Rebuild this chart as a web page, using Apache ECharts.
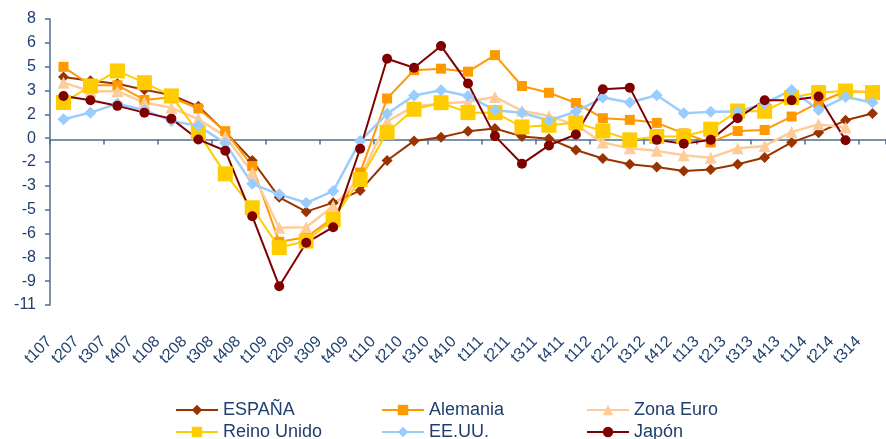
<!DOCTYPE html>
<html>
<head>
<meta charset="utf-8">
<script src="https://cdn.jsdelivr.net/npm/echarts@6/dist/echarts.min.js"></script>
<style>
html,body{margin:0;padding:0;background:#fff;}
#chart{width:886px;height:439px;}
</style>
</head>
<body>
<div id="chart"></div>
<script>
const categories = ['t107','t207','t307','t407','t108','t208','t308','t408','t109','t209','t309','t409','t110','t210','t310','t410','t111','t211','t311','t411','t112','t212','t312','t412','t113','t213','t313','t413','t114','t214','t314'];

const espana    = [4.15, 3.9, 3.7, 3.3, 2.95, 2.2, 0.5, -1.4, -3.85, -4.8, -4.2, -3.4, -1.4, -0.1, 0.15, 0.55, 0.72, 0.2, 0.05, -0.7, -1.27, -1.65, -1.83, -2.1, -2.0, -1.65, -1.2, -0.2, 0.45, 1.27, 1.72];
const alemania  = [4.82, 3.6, 3.6, 2.62, 2.8, 2.05, 0.55, -1.77, -6.8, -6.5, -5.2, -2.2, 2.72, 4.6, 4.7, 4.5, 5.6, 3.55, 3.1, 2.42, 1.41, 1.3, 1.1, 0.4, -0.2, 0.56, 0.63, 1.52, 2.45, 3.2, 3.15];
const zonaEuro  = [3.77, 3.2, 3.2, 2.45, 2.1, 1.35, 0.2, -2.2, -5.87, -5.83, -4.43, -2.55, 1.2, 2.2, 2.37, 2.5, 2.82, 1.9, 1.56, 0.95, -0.21, -0.59, -0.76, -1.05, -1.21, -0.59, -0.43, 0.5, 1.0, 0.79, null];
const reinoUnido= [2.45, 3.55, 4.55, 3.77, 2.89, 0.45, -2.29, -4.54, -7.19, -6.75, -5.32, -2.66, 0.47, 2.0, 2.44, 1.78, 1.78, 0.83, 0.94, 1.1, 0.56, -0.03, 0.2, 0.2, 0.68, 1.89, 1.87, 2.78, 3.11, 3.22, 3.11];
const eeuu      = [1.34, 1.78, 2.38, 1.94, 1.23, 0.9, -0.25, -2.95, -3.65, -4.21, -3.43, -0.11, 1.7, 2.92, 3.27, 2.89, 1.93, 1.77, 1.26, 1.85, 2.78, 2.45, 2.93, 1.74, 1.83, 1.85, 2.38, 3.29, 1.96, 2.82, 2.45];
const japon     = [2.89, 2.6, 2.23, 1.78, 1.38, 0.0, -0.75, -5.1, -9.75, -6.87, -5.83, -0.62, 5.36, 4.76, 6.21, 3.71, 0.22, -1.62, -0.4, 0.33, 3.33, 3.44, -0.03, -0.28, -0.03, 1.41, 2.6, 2.6, 2.85, -0.05, null];

const yMin = -11, yMax = 8, yInterval = 19 / 12;
const yTickLabels = ['-11','-9','-8','-6','-5','-3','-2','0','2','3','5','6','8'];

const textColor = '#1F3F6E';
const axisColor = '#4F6F92';
const font = 'Liberation Sans, Arial, sans-serif';

const chart = echarts.init(document.getElementById('chart'), null, {renderer: 'canvas'});

function mkSeries(name, data, color, symbol, size, width) {
  return {
    name: name, type: 'line', data: data, xAxisIndex: 0, yAxisIndex: 0,
    symbol: symbol, symbolSize: size, showSymbol: true,
    lineStyle: {color: color, width: width},
    itemStyle: {color: color, borderWidth: 0},
    connectNulls: false, animation: false
  };
}

function mkLegend(name, left, top) {
  return {
    data: [name], orient: 'horizontal', left: left, top: top,
    itemWidth: 42, itemHeight: 13, itemGap: 5, padding: 0,
    textStyle: {fontSize: 18, color: textColor, fontFamily: font}
  };
}

const option = {
  animation: false,
  backgroundColor: '#ffffff',
  textStyle: {fontFamily: font},
  grid: [
    {left: 50, right: 0, top: 19, bottom: 134, outerBoundsMode: 'none', containLabel: false},
    {left: 36, right: 14, top: 19, bottom: 134, outerBoundsMode: 'none', containLabel: false}
  ],
  xAxis: [
    {
      type: 'category', gridIndex: 0, data: categories, boundaryGap: true,
      axisLine: {show: true, onZero: true, lineStyle: {color: axisColor, width: 1.5}},
      axisTick: {show: true, length: 5, lineStyle: {color: axisColor, width: 1.5}},
      axisLabel: {show: false},
      splitLine: {show: false}
    },
    {
      type: 'category', gridIndex: 1, data: categories, boundaryGap: true, position: 'bottom',
      axisLine: {show: false, onZero: false},
      axisTick: {show: false},
      axisLabel: {show: true, interval: 0, rotate: 45, margin: 34, fontSize: 16, color: textColor, fontFamily: font},
      splitLine: {show: false}
    }
  ],
  yAxis: [
    {
      type: 'value', gridIndex: 0, min: yMin, max: yMax, interval: yInterval,
      axisLine: {show: true, lineStyle: {color: axisColor, width: 1.5}},
      axisTick: {show: true, length: 5, lineStyle: {color: axisColor, width: 1.5}},
      axisLabel: {
        margin: 14, fontSize: 16, color: textColor, fontFamily: font,
        formatter: function (v, i) { return yTickLabels[i] !== undefined ? yTickLabels[i] : ''; }
      },
      splitLine: {show: false}
    },
    {type: 'value', gridIndex: 1, min: yMin, max: yMax, show: false, splitLine: {show: false}}
  ],
  legend: [
    mkLegend('ESPAÑA', 175, 401),
    mkLegend('Alemania', 381, 401),
    mkLegend('Zona Euro', 586, 401),
    mkLegend('Reino Unido', 175, 423),
    mkLegend('EE.UU.', 381, 423),
    mkLegend('Japón', 586, 423)
  ],
  series: [
    mkSeries('ESPAÑA', espana, '#993300', 'diamond', 11, 2),
    mkSeries('Alemania', alemania, '#FF9900', 'rect', 10, 2),
    mkSeries('Zona Euro', zonaEuro, '#FFCC99', 'triangle', 12, 2.5),
    mkSeries('Reino Unido', reinoUnido, '#FFCC00', 'rect', 15, 2),
    mkSeries('EE.UU.', eeuu, '#99CCFF', 'diamond', 12, 2.5),
    mkSeries('Japón', japon, '#800000', 'circle', 10, 2)
  ]
};
chart.setOption(option);
</script>
</body>
</html>
